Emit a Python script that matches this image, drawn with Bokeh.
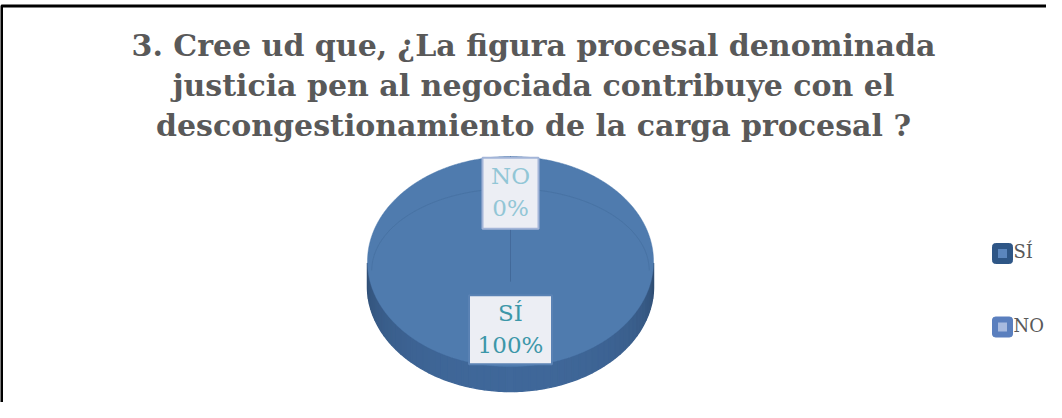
import numpy as np
from bokeh.plotting import figure
from bokeh.models import Range1d
from bokeh.core.properties import value
from bokeh.embed import file_html
from bokeh.resources import INLINE

# ---------------- data ----------------
title_lines = [
    "3. Cree ud que, ¿La figura procesal denominada",
    "justicia pen al negociada contribuye con el",
    "descongestionamiento de la carga procesal ?",
]
categories = ["SÍ", "NO"]
values = [100, 0]

# ---------------- styles ----------------
top_colors = ["#4f7bae", "#5b80bb"]
side_colors = ["#40689a", "#4a6ea6"]
legend_outer = ["#2e5686", "#5a7fbe"]
legend_inner = ["#5b86bd", "#a7badf"]
label_text_colors = ["#3c97a9", "#92c6d6"]
label_box_lines = ["#5a82b4", "#a3b5d8"]
label_box_w = [83, 56]
label_box_h = [69, 71]
TXT_DY = -10  # vertical correction for the text baseline

W, H = 1046, 402
p = figure(width=W, height=H, x_range=Range1d(0, W), y_range=Range1d(H, 0),
           output_backend="svg", toolbar_location=None, min_border=0,
           x_axis_location=None, y_axis_location=None)
p.xgrid.visible = False
p.ygrid.visible = False
p.outline_line_color = None
p.background_fill_color = "white"
p.border_fill_color = "white"

# chart frame (top and left visible)
p.line([1, 1, W + 20], [H + 20, 5.5, 5.5], line_color="black", line_width=3)

# ---------------- title ----------------
title_font = value("DejaVu Serif")
for i, line in enumerate(title_lines):
    p.text([533], [55 + 40 * i + TXT_DY], text=[line], text_font=title_font,
           text_font_size="30px", text_font_style="bold", text_color="#595959",
           text_align="center", text_baseline="alphabetic")

# ---------------- 3D pie ----------------
cx, cy, rx, ry, depth = 510.0, 261.0, 143.0, 105.0, 25.0
total = float(sum(values))
fracs = np.array(values, dtype=float) / total
cum = np.concatenate([[0.0], np.cumsum(fracs)])
starts = 90.0 - cum[:-1] * 360.0
ends = 90.0 - cum[1:] * 360.0


def ell(theta_deg, dy=0.0, kx=1.0, ky=1.0):
    t = np.radians(theta_deg)
    return cx + kx * rx * np.cos(t), cy + dy - ky * ry * np.sin(t)


# side walls (front half: angles between 180 and 360 math degrees)
for i in range(len(values)):
    a0, a1 = ends[i], starts[i]
    n = max(2, int(abs(a1 - a0) / 3))
    angs = np.linspace(a0, a1, n)
    for j in range(len(angs) - 1):
        m = (angs[j] + angs[j + 1]) / 2.0
        mm = m % 360
        if not (180.0 <= mm <= 360.0):
            continue
        seg = np.linspace(angs[j], angs[j + 1], 4)
        xs_t, ys_t = ell(seg)
        xs_b, ys_b = ell(seg[::-1], dy=depth)
        shade = abs(np.sin(np.radians(mm)))
        base = np.array([int(side_colors[i][k:k + 2], 16) for k in (1, 3, 5)])
        dark = base * (0.68 + 0.32 * shade ** 0.5)
        col = "#%02x%02x%02x" % tuple(np.clip(dark, 0, 255).astype(int))
        p.patch(np.concatenate([xs_t, xs_b]), np.concatenate([ys_t, ys_b]),
                fill_color=col, line_color=col, line_width=1.5)

# top faces
for i in range(len(values)):
    n = max(2, int(abs(starts[i] - ends[i]) * 2))
    angs = np.linspace(starts[i], ends[i], n)
    xs, ys = ell(angs)
    p.patch(np.concatenate([[cx], xs, [cx]]), np.concatenate([[cy], ys, [cy]]),
            fill_color=top_colors[i], line_color=top_colors[i], line_width=0.5)

# subtle bevel line on the top face
bev = np.linspace(0, 180, 181)
bx, by = ell(bev, dy=9, kx=0.97, ky=0.78)
p.line(bx, by, line_color="#3d6391", line_alpha=0.35, line_width=1)

# slice boundary lines
for a in starts:
    ex, ey = ell(np.array([a]))
    p.line([cx, ex[0]], [cy + 20, ey[0]], line_color="#3d6391",
           line_alpha=0.5, line_width=1)

# ---------------- data labels ----------------
lab_font = value("DejaVu Serif")
for i in range(len(values)):
    mid = (starts[i] + ends[i]) / 2.0
    lx, ly = ell(np.array([mid]), kx=0.0, ky=0.65)
    lx, ly = lx[0], ly[0]
    p.rect([lx], [ly], width=label_box_w[i], height=label_box_h[i],
           fill_color="#eceef4", line_color=label_box_lines[i], line_width=2)
    p.text([lx], [ly - 7 + TXT_DY], text=[categories[i]], text_font=lab_font,
           text_font_size="23px", text_color=label_text_colors[i],
           text_align="center", text_baseline="alphabetic")
    p.text([lx], [ly + 25 + TXT_DY],
           text=["%d%%" % round(values[i] / total * 100)],
           text_font=lab_font, text_font_size="23px",
           text_color=label_text_colors[i], text_align="center",
           text_baseline="alphabetic")

# ---------------- legend ----------------
leg_x, leg_y0, leg_dy = 1002, 253, 73.5
for i, c in enumerate(categories):
    yy = leg_y0 + leg_dy * i
    p.rect([leg_x], [yy], width=20, height=20, fill_color=legend_outer[i],
           line_color=legend_outer[i], border_radius=3)
    p.rect([leg_x], [yy], width=9, height=9, fill_color=legend_inner[i],
           line_color=None)
    p.text([leg_x + 11], [yy + 8 + TXT_DY], text=[c], text_font=lab_font,
           text_font_size="18px", text_color="#595959", text_align="left",
           text_baseline="alphabetic")

open("out.html", "w").write(file_html(p, INLINE))
